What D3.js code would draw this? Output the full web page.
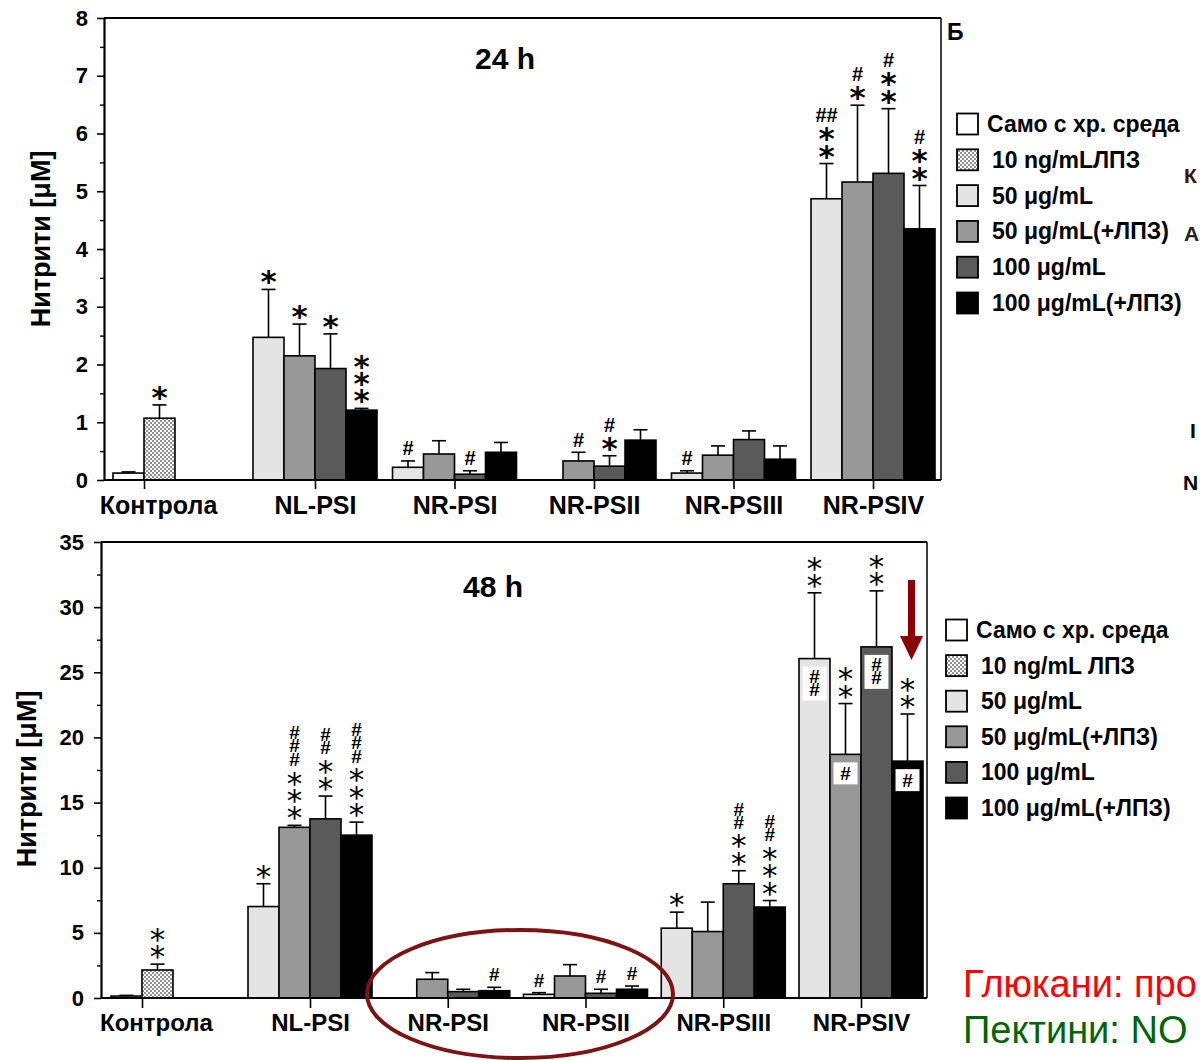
<!DOCTYPE html>
<html><head><meta charset="utf-8">
<script src="https://cdn.jsdelivr.net/npm/d3@7"></script>
<style>
body{margin:0;background:#fff}
svg{display:block}
</style>
</head><body>
<svg id="c" width="1200" height="1060" font-family="'Liberation Sans',Arial,sans-serif"></svg>
<script>
// ---------------- DATA ----------------
const groups = ["Контрола","NL-PSI","NR-PSI","NR-PSII","NR-PSIII","NR-PSIV"];
const seriesNames = ["Само с хр. среда","10 ng/mL ЛПЗ","50 μg/mL","50 μg/mL(+ЛПЗ)","100 μg/mL","100 μg/mL(+ЛПЗ)"];
const legend24Names = ["Само с хр. среда","10 ng/mLЛПЗ","50 μg/mL","50 μg/mL(+ЛПЗ)","100 μg/mL","100 μg/mL(+ЛПЗ)"];

const yTicks24 = [0,1,2,3,4,5,6,7,8];
const yTicks48 = [0,5,10,15,20,25,30,35];

// 24 h — Контрола: [Само с хр. среда, 10 ng/mL ЛПЗ]
const ctrl24Mean = [0.12, 1.07];
const ctrl24Err  = [0.02, 0.23];
const ctrl24Ann  = [[], ["*"]];
// 24 h — treated groups (NL-PSI … NR-PSIV)
const light24Mean = [2.47, 0.22, null, 0.12, 4.87];
const light24Err  = [0.83, 0.11, null, 0.04, 0.61];
const gray24Mean  = [2.15, 0.45, 0.33, 0.43, 5.16];
const gray24Err   = [0.55, 0.23, 0.15, 0.16, 1.33];
const dark24Mean  = [1.93, 0.10, 0.24, 0.70, 5.31];
const dark24Err   = [0.60, 0.06, 0.18, 0.15, 1.12];
const black24Mean = [1.21, 0.48, 0.69, 0.36, 4.35];
const black24Err  = [0.03, 0.17, 0.18, 0.23, 0.75];
const light24Ann = [["*"],["#"],[],["#"],["*","*","##"]];
const gray24Ann  = [["*"],[],["#"],[],["*","#"]];
const dark24Ann  = [["*"],["#"],["*","#"],[],["*","*","#"]];
const black24Ann = [["*","*","*"],[],[],[],["*","*","#"]];

// 48 h
const ctrl48Mean = [0.15, 2.15];
const ctrl48Err  = [0.05, 0.45];
const ctrl48Ann  = [[], ["*","*"]];
const light48Mean = [7.02, null, 0.28, 5.36, 26.05];
const light48Err  = [1.75, null, 0.13, 1.23, 5.05];
const gray48Mean  = [13.1, 1.44, 1.69, 5.10, 18.7];
const gray48Err   = [0.15, 0.51, 0.87, 2.26, 3.90];
const dark48Mean  = [13.75, 0.49, 0.36, 8.77, 26.95];
const dark48Err   = [1.75, 0.18, 0.31, 1.00, 4.30];
const black48Mean = [12.5, 0.56, 0.67, 6.98, 18.18];
const black48Err  = [1.00, 0.26, 0.25, 0.50, 3.62];
const light48Ann = [["*"],[],["#"],["*"],["*","*"]];
const gray48Ann  = [["*","*","*","#","#","#"],[],[],[],["*","*"]];
const dark48Ann  = [["*","*","#","#"],[],["#"],["*","*","#","#"],["*","*"]];
const black48Ann = [["*","*","*","#","#","#"],["#"],["#"],["*","*","*","#","#"],["*","*"]];
// labels inside NR-PSIV bars (48 h)
const inner48 = ["##", "#", "##", "#"];

// ---------------- STYLE ----------------
const fills = ["#ffffff","url(#dots)","#e4e4e4","#989898","#5a5a5a","#000000"];
// glyph metrics used to centre the stacked marks
const STAR = {family: "'DejaVu Sans'", asc: 0.928, desc: 0.236, mid: 0.5};
const HASH = {family: "'Liberation Sans',Arial,sans-serif", asc: 0.905, desc: 0.212, mid: 0.345};

const svg = d3.select("#c");
const defs = svg.append("defs");
const pat = defs.append("pattern").attr("id","dots").attr("width",4).attr("height",4)
  .attr("patternUnits","userSpaceOnUse");
pat.append("rect").attr("width",4).attr("height",4).attr("fill","#fff");
pat.append("circle").attr("cx",1).attr("cy",1).attr("r",0.8).attr("fill","#000");
pat.append("circle").attr("cx",3).attr("cy",3).attr("r",0.8).attr("fill","#000");

// draw a run of identical marks as one text; bottom glyph centred at (cx, cBottom)
function markRun(parent, cx, cBottom, txt, n, fs, step, bold, isStar) {
  const m = isStar ? STAR : HASH;
  const t = parent.append("text").style("font-family", m.family)
    .attr("font-weight", bold ? "bold" : "normal").attr("font-size", fs);
  if (n === 1) {
    t.attr("x", cx).attr("y", cBottom + m.mid*fs).attr("text-anchor","middle").text(txt);
  } else {
    const adv = (m.asc + m.desc) * fs;
    const topC = cBottom - (n-1)*step;
    t.attr("x", cx).attr("y", topC - (m.asc - m.mid)*fs)
      .style("writing-mode","vertical-rl").style("text-orientation","upright")
      .attr("letter-spacing", step - adv)
      .text(txt.repeat(n));
  }
  return t;
}

function panel(o) {
  const g = svg.append("g");
  const y = d3.scaleLinear().domain([0, o.ymax]).range([o.bottom, o.top]);
  const xp = d3.scalePoint().domain(groups.slice(1)).range([o.x1, o.xN]);
  const x = d3.scaleOrdinal().domain(groups).range([o.ctrlX, ...groups.slice(1).map(d => xp(d))]);

  // assemble bars
  const bars = [];
  o.ctrl.mean.forEach((m, k) => bars.push({g: groups[0], s: k, k, n: 2, m, e: o.ctrl.err[k], ann: o.ctrl.ann[k]}));
  o.series.forEach((ser, j) => {
    ser.mean.forEach((m, i) => {
      if (m == null) return;
      bars.push({g: groups[i+1], s: j+2, k: j, n: 4, m, e: ser.err[i], ann: ser.ann[i], gi: i});
    });
  });
  const bx = d => x(d.g) + (d.k - d.n/2) * o.bw;

  // frame
  g.append("line").attr("x1", o.left).attr("x2", o.right).attr("y1", o.top).attr("y2", o.top)
    .attr("stroke","#000").attr("stroke-width",2);
  g.append("line").attr("x1", o.right).attr("x2", o.right).attr("y1", o.top).attr("y2", o.bottom)
    .attr("stroke","#000").attr("stroke-width",1.5);

  // error bars
  const eb = g.append("g").attr("stroke","#000").attr("stroke-width",1.6);
  bars.forEach(d => {
    const cx = bx(d) + o.bw/2;
    eb.append("line").attr("x1",cx).attr("x2",cx).attr("y1",y(d.m)).attr("y2",y(d.m + d.e));
    eb.append("line").attr("x1",cx-7).attr("x2",cx+7).attr("y1",y(d.m + d.e)).attr("y2",y(d.m + d.e));
  });

  // bars
  g.append("g").selectAll("rect").data(bars).join("rect")
    .attr("x", bx).attr("width", o.bw)
    .attr("y", d => y(d.m)).attr("height", d => y(0) - y(d.m))
    .attr("fill", d => fills[d.s]).attr("stroke","#000").attr("stroke-width",1.6);

  // annotations: consecutive identical single marks are one stacked text
  const ag = g.append("g");
  bars.forEach(d => {
    if (!d.ann || !d.ann.length) return;
    const cx = bx(d) + o.bw/2;
    const runs = [];
    d.ann.forEach(tok => {
      const last = runs[runs.length-1];
      if (tok.length === 1 && last && last.txt === tok) last.n++;
      else runs.push({txt: tok, n: 1});
    });
    let c = y(d.m + d.e) - 12.5;
    runs.forEach((r, i) => {
      const isStar = r.txt[0] === "*";
      if (i > 0) c -= o.mixStep;
      const step = isStar ? o.starStep : o.hashStep;
      markRun(ag, cx, c, r.txt, r.n, isStar ? o.starSize : o.hashSize, step,
              isStar ? o.starBold : true, isStar);
      c -= (r.n - 1) * step;
    });
  });

  // inner labels
  if (o.inner) {
    bars.filter(d => d.gi === 4 && d.n === 4).forEach(d => {
      const lab = o.inner[d.k];
      const cx = bx(d) + o.bw/2;
      const top = y(d.m) + 8;
      const h = lab.length === 2 ? 34 : 22;
      g.append("rect").attr("x", cx-12).attr("y", top).attr("width", 24).attr("height", h).attr("fill","#fff");
      const cb = lab.length === 2 ? top + 23 : top + h/2;
      markRun(g, cx, cb, "#", lab.length, 19, 13, true, false);
    });
  }

  // y axis
  const ya = g.append("g").attr("transform",`translate(${o.left},0)`)
    .call(d3.axisLeft(y).tickValues(o.yTicks).tickSize(7).tickSizeOuter(0).tickPadding(o.yPad).tickFormat(d3.format("d")));
  ya.attr("font-size",22).attr("font-weight","bold").attr("font-family","'Liberation Sans',Arial,sans-serif");
  ya.select(".domain").attr("stroke-width",2.2);
  ya.selectAll(".tick line").attr("stroke-width",1.6);
  ya.selectAll("text").attr("fill","#000");
  const minors = o.yTicks.slice(0,-1).map((t,i) => (t + o.yTicks[i+1]) / 2);
  const ym = g.append("g").attr("transform",`translate(${o.left},0)`)
    .call(d3.axisLeft(y).tickValues(minors).tickSize(4).tickFormat(""));
  ym.select(".domain").remove();
  ym.selectAll(".tick line").attr("stroke-width",1.4);

  // x axis
  g.append("line").attr("x1", o.left).attr("x2", o.right).attr("y1", o.bottom).attr("y2", o.bottom)
    .attr("stroke","#000").attr("stroke-width",2.2);
  const xa = g.append("g").attr("transform",`translate(0,${o.bottom})`)
    .call(d3.axisBottom(x).tickSize(o.xTick).tickSizeOuter(0).tickPadding(o.xPad));
  xa.select(".domain").remove();
  xa.attr("font-size",o.xFont).attr("font-weight","bold").attr("font-family","'Liberation Sans',Arial,sans-serif");
  xa.selectAll(".tick line").attr("stroke-width",1.6);
  xa.selectAll("text").attr("fill","#000").attr("dx", d => d === groups[0] ? 14 : 0);

  // y title
  svg.append("text").attr("transform",`translate(${o.ytX},${o.ytY}) rotate(-90)`)
    .attr("text-anchor","middle").attr("font-weight","bold").attr("font-size",27).text(o.ytitle);

  // title
  svg.append("text").attr("x", o.titleX).attr("y", o.titleY).attr("text-anchor","middle")
    .attr("font-weight","bold").attr("font-size",30).text(o.title);
}

panel({
  top: 18, bottom: 480, left: 104, right: 941, ymax: 8, yTicks: yTicks24, yPad: 9,
  ctrlX: 144, x1: 315, xN: 873, bw: 31, xTick: 9, xPad: 7, xFont: 25,
  ctrl: {mean: ctrl24Mean, err: ctrl24Err, ann: ctrl24Ann},
  series: [
    {mean: light24Mean, err: light24Err, ann: light24Ann},
    {mean: gray24Mean,  err: gray24Err,  ann: gray24Ann},
    {mean: dark24Mean,  err: dark24Err,  ann: dark24Ann},
    {mean: black24Mean, err: black24Err, ann: black24Ann}
  ],
  starBold: true, starSize: 31, hashSize: 20, starStep: 17.5, hashStep: 13, mixStep: 18.5,
  ytitle: "Нитрити [μM]", ytX: 50, ytY: 239,
  title: "24 h", titleX: 505, titleY: 69
});

panel({
  top: 542, bottom: 998, left: 101, right: 927, ymax: 35, yTicks: yTicks48, yPad: 10,
  ctrlX: 142, x1: 310, xN: 861, bw: 31, xTick: 10, xPad: 6, xFont: 24,
  ctrl: {mean: ctrl48Mean, err: ctrl48Err, ann: ctrl48Ann},
  series: [
    {mean: light48Mean, err: light48Err, ann: light48Ann},
    {mean: gray48Mean,  err: gray48Err,  ann: gray48Ann},
    {mean: dark48Mean,  err: dark48Err,  ann: dark48Ann},
    {mean: black48Mean, err: black48Err, ann: black48Ann}
  ],
  inner: inner48,
  starBold: false, starSize: 31, hashSize: 19, starStep: 17.5, hashStep: 13.5, mixStep: 18,
  ytitle: "Нитрити  [μM]", ytX: 36, ytY: 779,
  title: "48 h", titleX: 493, titleY: 597
});

// legends
function legend(names, x0, y0, step, sz, tx) {
  const lg = svg.append("g");
  names.forEach((n, i) => {
    const cy = y0 + i*step;
    lg.append("rect").attr("x", x0).attr("y", cy - sz/2).attr("width", sz).attr("height", sz)
      .attr("fill", fills[i]).attr("stroke","#000").attr("stroke-width",1.8);
    lg.append("text").attr("x", i === 0 ? tx - 5 : tx).attr("y", cy + 8)
      .attr("font-weight","bold").attr("font-size",23).text(n);
  });
}
legend(legend24Names, 957, 124, 35.8, 21, 992);
legend(seriesNames, 946, 630, 35.6, 21, 981);

// panel letter
svg.append("text").attr("x",947).attr("y",40).attr("font-weight","bold").attr("font-size",23).text("Б");

// highlight ellipse and arrow
svg.append("ellipse").attr("cx",520).attr("cy",994).attr("rx",153).attr("ry",64)
  .attr("fill","none").attr("stroke","#7d1414").attr("stroke-width",4);
svg.append("path").attr("d","M908,580 L915,580 L915,636 L923,636 L911.5,660 L900,636 L908,636 Z")
  .attr("fill","#8b0000");

// side texts
svg.append("text").attr("x",963).attr("y",997).attr("font-size",38).attr("fill","#ff0000").text("Глюкани: про");
svg.append("text").attr("x",963).attr("y",1043).attr("font-size",38).attr("fill","#006400").text("Пектини: NO");
svg.append("text").attr("x",1184).attr("y",183).attr("font-size",21).attr("font-weight","bold").attr("fill","#3a1010").text("К");
svg.append("text").attr("x",1184).attr("y",241).attr("font-size",21).attr("font-weight","bold").attr("fill","#222").text("А");
svg.append("text").attr("x",1190).attr("y",438).attr("font-size",21).attr("font-weight","bold").text("I");
svg.append("text").attr("x",1183).attr("y",490).attr("font-size",21).attr("font-weight","bold").text("N");
</script>
</body></html>
